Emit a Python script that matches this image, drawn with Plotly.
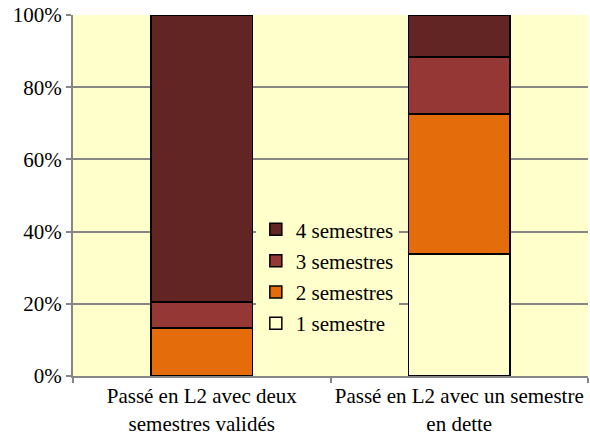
import plotly.graph_objects as go

categories = ["Passé en L2 avec deux<br>semestres validés", "Passé en L2 avec un semestre<br>en dette"]
series_names = ["1 semestre", "2 semestres", "3 semestres", "4 semestres"]
values = {
    "1 semestre": [0.0, 33.8],
    "2 semestres": [13.3, 38.8],
    "3 semestres": [7.2, 15.8],
    "4 semestres": [79.5, 11.6],
}
colors = {
    "1 semestre": "#FFFFCC",
    "2 semestres": "#E46C0A",
    "3 semestres": "#953735",
    "4 semestres": "#632523",
}
y_ticks = [0, 20, 40, 60, 80, 100]
y_ticklabels = ["0%", "20%", "40%", "60%", "80%", "100%"]

xpos = list(range(len(categories)))
fig = go.Figure()
for i, name in enumerate(series_names):
    fig.add_trace(go.Bar(
        x=xpos, y=values[name], name=name, width=0.396,
        marker=dict(color=colors[name], line=dict(color="black", width=1.5)),
        legendgroup=name, legendrank=len(series_names) - i,
    ))

FAM = "Liberation Serif"
SIZE = 21
fnt = dict(family=FAM, size=SIZE, color="black")
fig.update_layout(
    width=590, height=437,
    margin=dict(l=73, r=2, t=15, b=61, autoexpand=False),
    barmode="stack",
    paper_bgcolor="white",
    plot_bgcolor="#FFFFCC",
    font=fnt,
    showlegend=True,
    legend=dict(
        x=0.355, y=0.462, xanchor="left", yanchor="top",
        bgcolor="#FFFFCC", traceorder="grouped", tracegroupgap=1,
        font=fnt, itemwidth=30,
    ),
    xaxis=dict(
        range=[-0.5, 1.5], tickvals=xpos, ticktext=categories,
        ticks="", showgrid=False, showline=True, linecolor="#868686", linewidth=2,
        zeroline=False, automargin=False,
        minor=dict(ticks="outside", tick0=-0.5, dtick=1, ticklen=5, tickcolor="#868686", tickwidth=1.5, showgrid=False),
        tickfont=fnt,
    ),
    yaxis=dict(
        range=[0, 100], tickvals=y_ticks, ticktext=y_ticklabels,
        ticks="outside", ticklen=5, tickcolor="#868686", tickwidth=1.5,
        showgrid=True, gridcolor="#868686", gridwidth=1.5, automargin=False,
        showline=True, linecolor="#868686", linewidth=2, zeroline=False,
        tickfont=fnt,
    ),
)
fig.write_html("out.html", config={"displayModeBar": False},
               post_script="document.body.style.margin='0';")
